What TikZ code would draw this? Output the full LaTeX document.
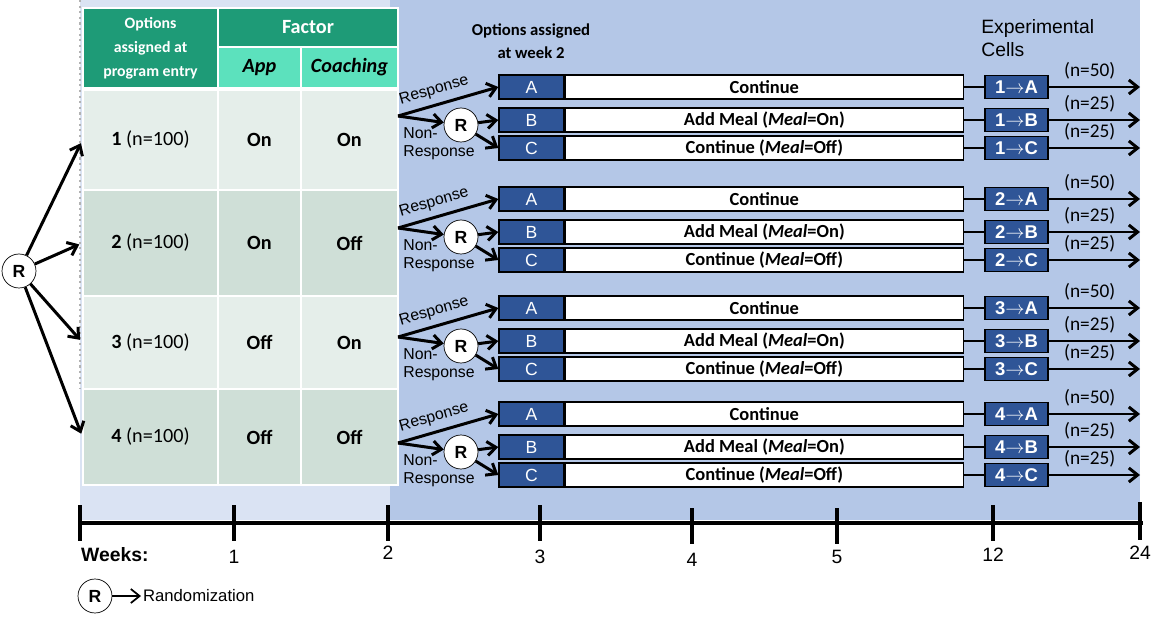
\documentclass[tikz,border=0pt]{standalone}
\usepackage{fontspec}
\setmainfont{Carlito}
\newfontfamily\arialf{Liberation Sans}
\usetikzlibrary{positioning,arrows.meta}

\definecolor{hdrgreen}{HTML}{1E9B77}
\definecolor{hdrteal}{HTML}{5CE1BD}
\definecolor{rowlight}{HTML}{E5EEEA}
\definecolor{rowdark}{HTML}{CFDFD7}
\definecolor{bglight}{HTML}{DAE3F3}
\definecolor{bgdark}{HTML}{B4C7E7}
\definecolor{boxblue}{HTML}{2F5597}

\begin{document}
\begin{tikzpicture}[x=0.02cm, y=-0.02cm, >={Straight Barb[length=5pt,width=8pt]},
    tcell/.style={draw=white, line width=0.6pt, inner sep=0pt, align=center, font=\fontsize{11.5}{13}\selectfont},
    thead/.style={tcell, fill=hdrgreen, text=white, line width=1.5pt, font=\bfseries\fontsize{9}{13.6}\selectfont},
    letter/.style={draw=black, fill=boxblue, text=white, minimum width=1.3cm, minimum height=0.48cm, inner sep=0pt, line width=0.8pt, font=\arialf\fontsize{10}{12}\selectfont},
    wide/.style={draw=black, fill=white, minimum width=7.96cm, minimum height=0.48cm, inner sep=0pt, line width=0.8pt, font=\bfseries\fontsize{10.5}{12}\selectfont},
    cell/.style={draw=black, fill=boxblue, text=white, minimum width=1.26cm, minimum height=0.46cm, inner sep=0pt, line width=0.6pt, font=\arialf\bfseries\fontsize{10.5}{12}\selectfont},
    rnd/.style={circle, draw=black, fill=white, minimum size=0.68cm, inner sep=0pt, font=\arialf\bfseries\fontsize{10}{12}\selectfont},
    arr/.style={->, line width=1.7pt},
    lbl/.style={font=\arialf\fontsize{9}{10.5}\selectfont},
    nlbl/.style={font=\fontsize{11}{12}\selectfont},
    axl/.style={font=\arialf\fontsize{11}{13}\selectfont},
    tick/.style={line width=2pt}]
            \useasboundingbox (0,0) rectangle (1164,618);

            % backgrounds
            \fill[bglight] (80,0) rectangle (390,520);
            \fill[bgdark] (390,0) rectangle (1140,520);
            \draw[gray!60, dotted, line width=1.2pt] (80,0) -- (80,388);

            % table
            \node[thead, minimum width=2.7cm, minimum height=1.6cm] (opthd) at (150.5,48) {Options\\assigned at\\program entry};
            \node[thead, font=\bfseries\fontsize{11.5}{13}\selectfont, minimum width=3.6cm, minimum height=0.78cm] (facthd) at (308,27.5) {Factor};
            \node[tcell, fill=hdrteal, line width=1.5pt, font=\bfseries\itshape\fontsize{11.5}{13}\selectfont, minimum width=1.66cm, minimum height=0.82cm] (apphd) at (259.5,67.5) {App};
            \node[tcell, fill=hdrteal, line width=1.5pt, font=\bfseries\itshape\fontsize{11.5}{13}\selectfont, minimum width=1.94cm, minimum height=0.82cm] (coachhd) at (349.5,67.5) {Coaching};

            \node[tcell, fill=rowlight, minimum width=2.7cm,  minimum height=2cm] (opt1)   at (150.5,140) {\textbf{1} (n=100)};
            \node[tcell, fill=rowlight, minimum width=1.66cm, minimum height=2cm] (app1)   at (259.5,140) {\textbf{On}};
            \node[tcell, fill=rowlight, minimum width=1.94cm, minimum height=2cm] (coach1) at (349.5,140) {\textbf{On}};

            \node[tcell, fill=rowdark, minimum width=2.7cm,  minimum height=2.12cm] (opt2)   at (150.5,243) {\textbf{2} (n=100)};
            \node[tcell, fill=rowdark, minimum width=1.66cm, minimum height=2.12cm] (app2)   at (259.5,243) {\textbf{On}};
            \node[tcell, fill=rowdark, minimum width=1.94cm, minimum height=2.12cm] (coach2) at (349.5,243) {\textbf{Off}};

            \node[tcell, fill=rowlight, minimum width=2.7cm,  minimum height=1.86cm] (opt3)   at (150.5,342.5) {\textbf{3} (n=100)};
            \node[tcell, fill=rowlight, minimum width=1.66cm, minimum height=1.86cm] (app3)   at (259.5,342.5) {\textbf{Off}};
            \node[tcell, fill=rowlight, minimum width=1.94cm, minimum height=1.86cm] (coach3) at (349.5,342.5) {\textbf{On}};

            \node[tcell, fill=rowdark, minimum width=2.7cm,  minimum height=1.92cm] (opt4)   at (150.5,437) {\textbf{4} (n=100)};
            \node[tcell, fill=rowdark, minimum width=1.66cm, minimum height=1.92cm] (app4)   at (259.5,437) {\textbf{Off}};
            \node[tcell, fill=rowdark, minimum width=1.94cm, minimum height=1.92cm] (coach4) at (349.5,437) {\textbf{Off}};

            % first randomization
            \node[rnd] (R0) at (19,271) {R};
            \draw[arr, shorten >=2pt] (R0) -- (opt1.west);
            \draw[arr, shorten >=2pt] (R0) -- (opt2.west);
            \draw[arr, shorten >=2pt] (R0) -- (opt3.west);
            \draw[arr, shorten >=2pt] (R0) -- (opt4.west);

            % column headings
            \node[font=\bfseries\fontsize{9.5}{13}\selectfont, align=center] (wk2hd) at (531,41) {Options assigned\\at week 2};
            \node[font=\arialf\fontsize{11}{13}\selectfont, align=left, anchor=north west, inner sep=0pt] (cellhd) at (981,19) {Experimental\\Cells};

            % group 1
            \coordinate (br1) at (398,116);
            \node[letter] (A1) at (531.5,87) {A};
            \node[wide, right=0pt of A1] (wA1) {Continue};
            \node[letter] (B1) at (531.5,120) {B};
            \node[wide, right=0pt of B1] (wB1) {Add Meal (\textit{Meal}=On)};
            \node[letter] (C1) at (531.5,148) {C};
            \node[wide, right=0pt of C1] (wC1) {Continue (\textit{Meal}=Off)};
            \node[rnd] (R1) at (461,125) {R};
            \draw[arr] (br1) -- node[lbl, sloped, above, pos=0.4] (rsp1) {Response} (A1.west);
            \draw[arr] (br1) -- (R1);
            \node[lbl, align=left, anchor=north west, inner sep=0pt] (nr1) at (403,127) {Non-\\Response};
            \draw[arr] (R1) -- (B1.west);
            \draw[arr] (R1) -- (C1.west);
            \node[cell] (cA1) at (1016.5,87)  {1$\rightarrow$A};
            \node[cell] (cB1) at (1016.5,120) {1$\rightarrow$B};
            \node[cell] (cC1) at (1016.5,148) {1$\rightarrow$C};
            \coordinate (eA1) at (1140,87);
            \coordinate (eB1) at (1140,120);
            \coordinate (eC1) at (1140,148);
            \draw[line width=1.7pt] (wA1) -- (cA1);
            \draw[line width=1.7pt] (wB1) -- (cB1);
            \draw[line width=1.7pt] (wC1) -- (cC1);
            \draw[arr] (cA1) -- node[nlbl, above, pos=0.45] (nA1) {(n=50)} (eA1);
            \draw[arr] (cB1) -- node[nlbl, above, pos=0.45] (nB1) {(n=25)} (eB1);
            \draw[arr] (cC1) -- node[nlbl, above, pos=0.45] (nC1) {(n=25)} (eC1);

            % group 2
            \coordinate (br2) at (398,228);
            \node[letter] (A2) at (531.5,199) {A};
            \node[wide, right=0pt of A2] (wA2) {Continue};
            \node[letter] (B2) at (531.5,232) {B};
            \node[wide, right=0pt of B2] (wB2) {Add Meal (\textit{Meal}=On)};
            \node[letter] (C2) at (531.5,260) {C};
            \node[wide, right=0pt of C2] (wC2) {Continue (\textit{Meal}=Off)};
            \node[rnd] (R2) at (461,237) {R};
            \draw[arr] (br2) -- node[lbl, sloped, above, pos=0.4] (rsp2) {Response} (A2.west);
            \draw[arr] (br2) -- (R2);
            \node[lbl, align=left, anchor=north west, inner sep=0pt] (nr2) at (403,239) {Non-\\Response};
            \draw[arr] (R2) -- (B2.west);
            \draw[arr] (R2) -- (C2.west);
            \node[cell] (cA2) at (1016.5,199) {2$\rightarrow$A};
            \node[cell] (cB2) at (1016.5,232) {2$\rightarrow$B};
            \node[cell] (cC2) at (1016.5,260) {2$\rightarrow$C};
            \coordinate (eA2) at (1140,199);
            \coordinate (eB2) at (1140,232);
            \coordinate (eC2) at (1140,260);
            \draw[line width=1.7pt] (wA2) -- (cA2);
            \draw[line width=1.7pt] (wB2) -- (cB2);
            \draw[line width=1.7pt] (wC2) -- (cC2);
            \draw[arr] (cA2) -- node[nlbl, above, pos=0.45] (nA2) {(n=50)} (eA2);
            \draw[arr] (cB2) -- node[nlbl, above, pos=0.45] (nB2) {(n=25)} (eB2);
            \draw[arr] (cC2) -- node[nlbl, above, pos=0.45] (nC2) {(n=25)} (eC2);

            % group 3
            \coordinate (br3) at (398,337);
            \node[letter] (A3) at (531.5,308) {A};
            \node[wide, right=0pt of A3] (wA3) {Continue};
            \node[letter] (B3) at (531.5,341) {B};
            \node[wide, right=0pt of B3] (wB3) {Add Meal (\textit{Meal}=On)};
            \node[letter] (C3) at (531.5,369) {C};
            \node[wide, right=0pt of C3] (wC3) {Continue (\textit{Meal}=Off)};
            \node[rnd] (R3) at (461,346) {R};
            \draw[arr] (br3) -- node[lbl, sloped, above, pos=0.4] (rsp3) {Response} (A3.west);
            \draw[arr] (br3) -- (R3);
            \node[lbl, align=left, anchor=north west, inner sep=0pt] (nr3) at (403,348) {Non-\\Response};
            \draw[arr] (R3) -- (B3.west);
            \draw[arr] (R3) -- (C3.west);
            \node[cell] (cA3) at (1016.5,308) {3$\rightarrow$A};
            \node[cell] (cB3) at (1016.5,341) {3$\rightarrow$B};
            \node[cell] (cC3) at (1016.5,369) {3$\rightarrow$C};
            \coordinate (eA3) at (1140,308);
            \coordinate (eB3) at (1140,341);
            \coordinate (eC3) at (1140,369);
            \draw[line width=1.7pt] (wA3) -- (cA3);
            \draw[line width=1.7pt] (wB3) -- (cB3);
            \draw[line width=1.7pt] (wC3) -- (cC3);
            \draw[arr] (cA3) -- node[nlbl, above, pos=0.45] (nA3) {(n=50)} (eA3);
            \draw[arr] (cB3) -- node[nlbl, above, pos=0.45] (nB3) {(n=25)} (eB3);
            \draw[arr] (cC3) -- node[nlbl, above, pos=0.45] (nC3) {(n=25)} (eC3);

            % group 4
            \coordinate (br4) at (398,443);
            \node[letter] (A4) at (531.5,414) {A};
            \node[wide, right=0pt of A4] (wA4) {Continue};
            \node[letter] (B4) at (531.5,447) {B};
            \node[wide, right=0pt of B4] (wB4) {Add Meal (\textit{Meal}=On)};
            \node[letter] (C4) at (531.5,475) {C};
            \node[wide, right=0pt of C4] (wC4) {Continue (\textit{Meal}=Off)};
            \node[rnd] (R4) at (461,452) {R};
            \draw[arr] (br4) -- node[lbl, sloped, above, pos=0.4] (rsp4) {Response} (A4.west);
            \draw[arr] (br4) -- (R4);
            \node[lbl, align=left, anchor=north west, inner sep=0pt] (nr4) at (403,454) {Non-\\Response};
            \draw[arr] (R4) -- (B4.west);
            \draw[arr] (R4) -- (C4.west);
            \node[cell] (cA4) at (1016.5,414) {4$\rightarrow$A};
            \node[cell] (cB4) at (1016.5,447) {4$\rightarrow$B};
            \node[cell] (cC4) at (1016.5,475) {4$\rightarrow$C};
            \coordinate (eA4) at (1140,414);
            \coordinate (eB4) at (1140,447);
            \coordinate (eC4) at (1140,475);
            \draw[line width=1.7pt] (wA4) -- (cA4);
            \draw[line width=1.7pt] (wB4) -- (cB4);
            \draw[line width=1.7pt] (wC4) -- (cC4);
            \draw[arr] (cA4) -- node[nlbl, above, pos=0.45] (nA4) {(n=50)} (eA4);
            \draw[arr] (cB4) -- node[nlbl, above, pos=0.45] (nB4) {(n=25)} (eB4);
            \draw[arr] (cC4) -- node[nlbl, above, pos=0.45] (nC4) {(n=25)} (eC4);

            % time axis
            \draw[tick] (80,523) -- (1143,523);
            \draw[tick] (80,505) -- (80,541);
            \draw[tick] (234,505) -- (234,541);
            \draw[tick] (388,505) -- (388,541);
            \draw[tick] (540,505) -- (540,541);
            \draw[tick] (692,508) -- (692,544);
            \draw[tick] (837,508) -- (837,544);
            \draw[tick] (993,505) -- (993,541);
            \draw[tick] (1140,502) -- (1140,540);

            \node[axl, font=\arialf\bfseries\fontsize{11}{13}\selectfont, anchor=west] (wks) at (75,555) {Weeks:};
            \node[axl] (wk1)  at (234,557)  {1};
            \node[axl] (wk2)  at (388,553)  {2};
            \node[axl] (wk3)  at (540,557)  {3};
            \node[axl] (wk4)  at (692,560)  {4};
            \node[axl] (wk5)  at (837,557)  {5};
            \node[axl] (wk12) at (993,555)  {12};
            \node[axl] (wk24) at (1140,553) {24};

            % legend
            \node[rnd] (Rleg) at (95,596) {R};
            \node[lbl, font=\arialf\fontsize{9.5}{11}\selectfont, anchor=west, inner sep=1pt] (rndtxt) at (141,596) {Randomization};
            \draw[->, line width=1pt] (Rleg) -- (rndtxt);
        \end{tikzpicture}
\end{document}
